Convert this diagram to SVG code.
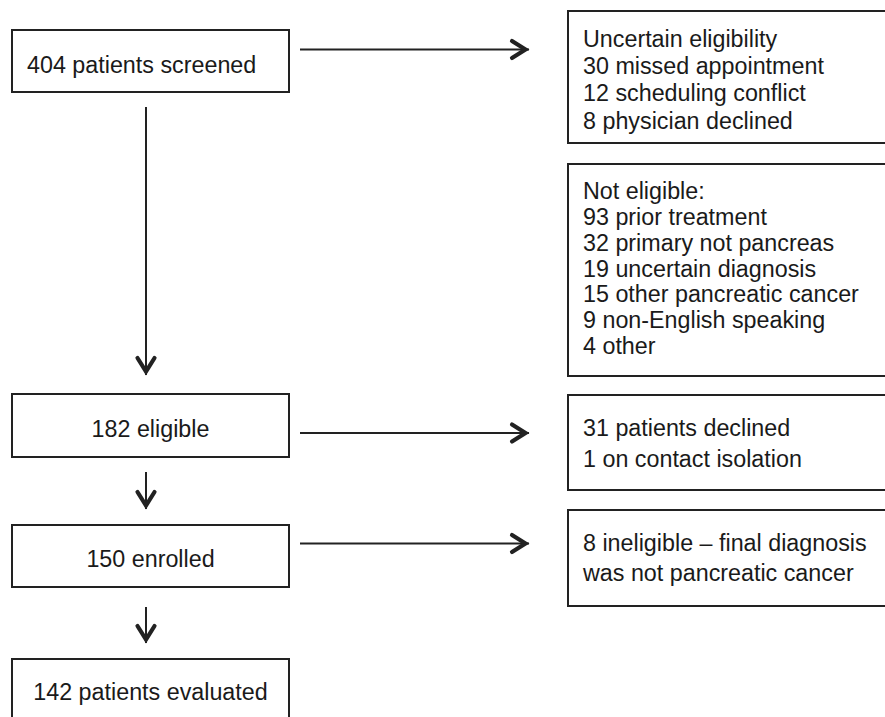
<svg xmlns="http://www.w3.org/2000/svg" width="885" height="717" viewBox="0 0 885 717">
  <style>
    .box { fill: #ffffff; stroke: #222222; stroke-width: 2; }
    .t { font-family: "Liberation Sans", Arial, sans-serif; font-size: 23.3px; fill: #1a1a1a; }
    .c { text-anchor: middle; }
    .ln { stroke: #222222; stroke-width: 2; fill: none; }
  </style>
  <defs>
    <marker id="arr" markerUnits="userSpaceOnUse" markerWidth="30" markerHeight="30" viewBox="-24 -15 30 30" refX="0" refY="0" orient="auto">
      <path d="M-17,-8.5 L-3.5,0 L-17,8.5" fill="none" stroke="#222222" stroke-width="4.2" stroke-linejoin="miter" stroke-linecap="round"/>
    </marker>
  </defs>
  <rect width="885" height="717" fill="#ffffff"/>

  <g id="connectors">
    <line class="ln" x1="146" y1="107" x2="146" y2="375" marker-end="url(#arr)"/>
    <line class="ln" x1="146" y1="472" x2="146" y2="509" marker-end="url(#arr)"/>
    <line class="ln" x1="146" y1="607" x2="146" y2="643" marker-end="url(#arr)"/>
    <line class="ln" x1="300" y1="49.5" x2="529" y2="49.5" marker-end="url(#arr)"/>
    <line class="ln" x1="300" y1="433" x2="529" y2="433" marker-end="url(#arr)"/>
    <line class="ln" x1="300" y1="543.5" x2="529" y2="543.5" marker-end="url(#arr)"/>
  </g>

  <g id="screened">
    <rect class="box" x="12" y="30" width="277" height="62"/>
    <text class="t" x="27" y="72.5">404 patients screened</text>
  </g>
  <g id="eligible">
    <rect class="box" x="12" y="394" width="277" height="63"/>
    <text class="t c" x="150.5" y="437">182 eligible</text>
  </g>
  <g id="enrolled">
    <rect class="box" x="12" y="525" width="277" height="62"/>
    <text class="t c" x="150.5" y="567">150 enrolled</text>
  </g>
  <g id="evaluated">
    <rect class="box" x="12" y="659" width="277" height="80"/>
    <text class="t c" x="150.5" y="700">142 patients evaluated</text>
  </g>

  <g id="uncertain">
    <rect class="box" x="568" y="11" width="330" height="132"/>
    <text class="t" x="583" y="47">Uncertain eligibility</text>
    <text class="t" x="583" y="74">30 missed appointment</text>
    <text class="t" x="583" y="101">12 scheduling conflict</text>
    <text class="t" x="583" y="129">8 physician declined</text>
  </g>
  <g id="not-eligible">
    <rect class="box" x="568" y="164" width="330" height="212"/>
    <text class="t" x="583" y="199">Not eligible:</text>
    <text class="t" x="583" y="225">93 prior treatment</text>
    <text class="t" x="583" y="251">32 primary not pancreas</text>
    <text class="t" x="583" y="277">19 uncertain diagnosis</text>
    <text class="t" x="583" y="302">15 other pancreatic cancer</text>
    <text class="t" x="583" y="328">9 non-English speaking</text>
    <text class="t" x="583" y="354">4 other</text>
  </g>
  <g id="declined">
    <rect class="box" x="568" y="395" width="330" height="95"/>
    <text class="t" x="583" y="436">31 patients declined</text>
    <text class="t" x="583" y="467">1 on contact isolation</text>
  </g>
  <g id="ineligible">
    <rect class="box" x="568" y="510" width="330" height="96"/>
    <text class="t" x="583" y="551">8 ineligible – final diagnosis</text>
    <text class="t" x="583" y="581">was not pancreatic cancer</text>
  </g>
</svg>
